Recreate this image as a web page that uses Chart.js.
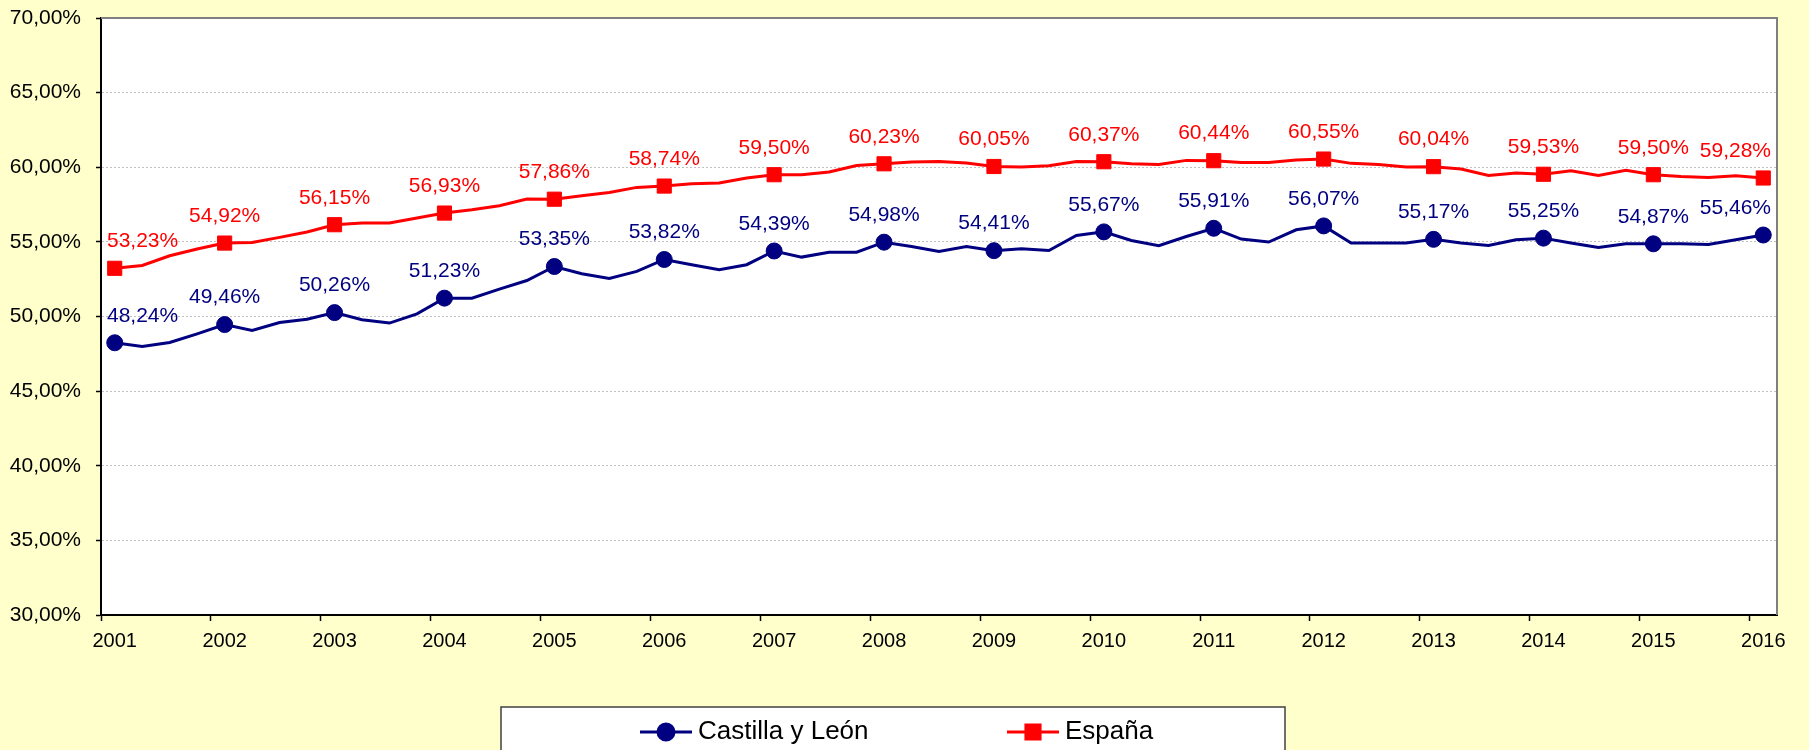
<!DOCTYPE html>
<html>
<head>
<meta charset="utf-8">
<title>Castilla y León - España</title>
<script src="https://cdn.jsdelivr.net/npm/chart.js@4.4.1/dist/chart.umd.min.js"></script>
<style>
  html, body { margin: 0; padding: 0; background: #FFFFCC; }
  canvas { display: block; }
</style>
</head>
<body>
<canvas id="tasaChart" width="1809" height="750"></canvas>
<script>
// Quarterly series, 2001 T1 .. 2016 T1 (markers + labels only on T1)
const years = ['2001', '2002', '2003', '2004', '2005', '2006', '2007', '2008',
               '2009', '2010', '2011', '2012', '2013', '2014', '2015', '2016'];
const quarters = ['T1', 'T2', 'T3', 'T4'];
const periods = years.flatMap(y => quarters.map(q => y + ' ' + q)).slice(0, 61);

const castillaLeon = [
  48.24, 47.99, 48.26, 48.84,
  49.46, 49.06, 49.60, 49.82,
  50.26, 49.78, 49.56, 50.18,
  51.23, 51.23, 51.83, 52.41,
  53.35, 52.86, 52.55, 53.02,
  53.82, 53.47, 53.13, 53.47,
  54.39, 53.98, 54.31, 54.31,
  54.98, 54.69, 54.36, 54.69,
  54.41, 54.54, 54.42, 55.43,
  55.67, 55.09, 54.74, 55.36,
  55.91, 55.19, 54.99, 55.81,
  56.07, 54.92, 54.92, 54.92,
  55.17, 54.92, 54.76, 55.14,
  55.25, 54.92, 54.63, 54.87,
  54.87, 54.87, 54.83, 55.14,
  55.46
];

const espana = [
  53.23, 53.42, 54.07, 54.52,
  54.92, 54.96, 55.30, 55.66,
  56.15, 56.26, 56.26, 56.60,
  56.93, 57.15, 57.42, 57.87,
  57.86, 58.09, 58.31, 58.65,
  58.74, 58.89, 58.94, 59.28,
  59.50, 59.50, 59.68, 60.12,
  60.23, 60.35, 60.39, 60.28,
  60.05, 60.01, 60.10, 60.39,
  60.37, 60.23, 60.19, 60.46,
  60.44, 60.32, 60.32, 60.48,
  60.55, 60.26, 60.19, 60.01,
  60.04, 59.88, 59.45, 59.61,
  59.53, 59.77, 59.45, 59.79,
  59.50, 59.38, 59.32, 59.43,
  59.28
];

const yMin = 30;
const yMax = 70;
const yStep = 5;

const FONT = '"Liberation Sans", Arial, sans-serif';

function pct(v) {
  return v.toFixed(2).replace('.', ',') + '%';
}

// page + plot area background, gray top/right frame
const plotBackground = {
  id: 'plotBackground',
  beforeDraw(chart) {
    const { ctx, chartArea: a } = chart;
    ctx.save();
    ctx.fillStyle = '#FFFFCC';
    ctx.fillRect(0, 0, chart.width, chart.height);
    ctx.fillStyle = '#FFFFFF';
    ctx.fillRect(a.left, a.top, a.right - a.left, a.bottom - a.top);
    ctx.restore();
  },
  beforeDatasetsDraw(chart) {
    const { ctx, chartArea: a } = chart;
    ctx.save();
    ctx.strokeStyle = '#808080';
    ctx.lineWidth = 2;
    ctx.beginPath();
    ctx.moveTo(a.left, a.top);
    ctx.lineTo(a.right, a.top);
    ctx.lineTo(a.right, a.bottom);
    ctx.stroke();
    ctx.restore();
  }
};

// value labels above the yearly (T1) markers
const yearLabels = {
  id: 'yearLabels',
  afterDatasetsDraw(chart) {
    const { ctx, chartArea: a } = chart;
    ctx.save();
    ctx.font = '21px ' + FONT;
    ctx.textAlign = 'center';
    ctx.textBaseline = 'middle';
    chart.data.datasets.forEach((ds, di) => {
      const meta = chart.getDatasetMeta(di);
      meta.data.forEach((pt, i) => {
        if (i % 4 !== 0) return;
        const text = pct(ds.data[i]);
        const half = ctx.measureText(text).width / 2;
        let x = pt.x;
        x = Math.max(x, a.left + 6 + half);
        x = Math.min(x, a.right - 6 - half);
        ctx.fillStyle = ds.borderColor;
        ctx.fillText(text, x, pt.y - 27);
      });
    });
    ctx.restore();
  }
};

// boxed legend at the bottom, line + marker like the original
const boxLegend = {
  id: 'boxLegend',
  afterDraw(chart) {
    const { ctx } = chart;
    const box = { left: 501, top: 707, right: 1285, bottom: 770 };
    const starts = [640, 1007];
    const cy = 732;
    ctx.save();
    ctx.fillStyle = '#FFFFFF';
    ctx.fillRect(box.left, box.top, box.right - box.left, box.bottom - box.top);
    ctx.strokeStyle = '#404040';
    ctx.lineWidth = 1.5;
    ctx.strokeRect(box.left, box.top, box.right - box.left, box.bottom - box.top);
    chart.data.datasets.forEach((ds, i) => {
      const x0 = starts[i];
      ctx.strokeStyle = ds.borderColor;
      ctx.lineWidth = 3;
      ctx.beginPath();
      ctx.moveTo(x0, cy);
      ctx.lineTo(x0 + 52, cy);
      ctx.stroke();
      Chart.helpers.drawPoint(ctx, {
        pointStyle: ds.pointStyle,
        radius: ds.pointStyle === 'rect' ? 10 : 8,
        borderWidth: 1
      }, x0 + 26, cy);
      ctx.fillStyle = ds.borderColor;
      ctx.fill();
      ctx.fillStyle = '#000000';
      ctx.font = '26px ' + FONT;
      ctx.textAlign = 'left';
      ctx.textBaseline = 'middle';
      ctx.fillText(ds.label, x0 + 58, cy);
    });
    ctx.restore();
  }
};

const ctx = document.getElementById('tasaChart').getContext('2d');

new Chart(ctx, {
  type: 'line',
  data: {
    labels: periods,
    datasets: [{
      label: 'Castilla y León',
      data: castillaLeon,
      borderColor: '#000080',
      backgroundColor: '#000080',
      borderWidth: 3,
      tension: 0,
      pointStyle: 'circle',
      pointRadius: c => (c.dataIndex % 4 === 0 ? 8 : 0),
      pointHoverRadius: c => (c.dataIndex % 4 === 0 ? 8 : 0),
      pointBorderWidth: 1,
      pointBackgroundColor: '#000080',
      pointBorderColor: '#000080'
    }, {
      label: 'España',
      data: espana,
      borderColor: '#FF0000',
      backgroundColor: '#FF0000',
      borderWidth: 3,
      tension: 0,
      pointStyle: 'rect',
      pointRadius: c => (c.dataIndex % 4 === 0 ? 10 : 0),
      pointHoverRadius: c => (c.dataIndex % 4 === 0 ? 10 : 0),
      pointBorderWidth: 1,
      pointBackgroundColor: '#FF0000',
      pointBorderColor: '#FF0000'
    }]
  },
  options: {
    responsive: false,
    animation: false,
    layout: {
      padding: { top: 18, right: 32, bottom: 95, left: 0 }
    },
    scales: {
      x: {
        type: 'category',
        offset: true,
        grid: {
          offset: true,
          drawOnChartArea: false,
          drawTicks: true,
          tickLength: 6,
          tickWidth: 1.5,
          tickColor: c => (c.index % 4 === 0 ? '#000000' : 'rgba(0,0,0,0)')
        },
        border: { color: '#000000', width: 2 },
        ticks: {
          autoSkip: false,
          maxRotation: 0,
          minRotation: 0,
          padding: 8,
          color: '#000000',
          font: { family: FONT, size: 20 },
          callback: (value, index) => (index % 4 === 0 ? years[index / 4] : '')
        },
        afterFit(scale) {
          scale.height = 40;
          scale.paddingLeft = 0;
          scale.paddingRight = 0;
        }
      },
      y: {
        min: yMin,
        max: yMax,
        grid: {
          color: '#C0C0C0',
          lineWidth: 1,
          drawTicks: true,
          tickLength: 5,
          tickWidth: 1.5,
          tickColor: '#000000'
        },
        border: { color: '#000000', width: 2, dash: [2, 2] },
        ticks: {
          stepSize: yStep,
          padding: 15,
          color: '#000000',
          font: { family: FONT, size: 21 },
          callback: value => pct(value)
        },
        afterFit(scale) {
          scale.width = 101;
          scale.paddingTop = 0;
          scale.paddingBottom = 0;
        }
      }
    },
    plugins: {
      legend: { display: false },
      tooltip: { enabled: false }
    }
  },
  plugins: [plotBackground, yearLabels, boxLegend]
});
</script>
</body>
</html>
